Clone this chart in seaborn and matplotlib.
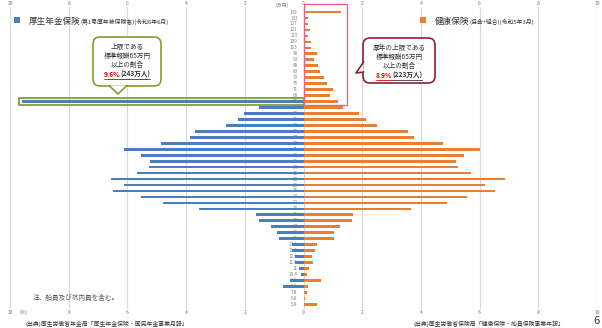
import matplotlib
matplotlib.use("Agg")
import matplotlib.pyplot as plt
import seaborn as sns
import pandas as pd
import numpy as np
from matplotlib.patches import FancyBboxPatch, Rectangle, Polygon
from matplotlib.lines import Line2D
from matplotlib.ticker import FuncFormatter

# ---------------- data (bottom grade -> top grade) ----------------
grades = ["5.8", "6.8", "7.8", "8.8", "9.8", "10.4", "11", "11.8", "12.6", "13.4",
          "14.2", "15", "16", "17", "18", "19", "20", "22", "24", "26",
          "28", "30", "32", "34", "36", "38", "41", "44", "47", "50",
          "53", "56", "59", "62", "65", "68", "71", "75", "79", "83",
          "88", "93", "98", "103", "109", "115", "121", "127", "133", "139"]

# 健康保険(協会+組合) share (%) per grade
health = [0.47, 0.05, 0.125, 0.15, 0.60, 0.125, 0.20, 0.33, 0.28, 0.39,
          0.47, 1.05, 1.03, 1.25, 1.64, 1.67, 3.67, 4.88, 5.58, 6.53,
          6.19, 6.86, 5.69, 5.25, 5.18, 5.47, 6.00, 4.75, 3.76, 3.55,
          2.50, 2.13, 1.89, 1.33, 1.16, 0.90, 1.02, 0.79, 0.71, 0.56,
          0.51, 0.35, 0.45, 0.24, 0.24, 0.16, 0.22, 0.14, 0.16, 1.28]

# 厚生年金保険 grades 8.8 - 65
pension_grades = ["8.8", "9.8", "10.4", "11", "11.8", "12.6", "13.4", "14.2", "15", "16",
                  "17", "18", "19", "20", "22", "24", "26", "28", "30", "32",
                  "34", "36", "38", "41", "44", "47", "50", "53", "56", "59",
                  "62", "65"]
pension = [0.69, 0.47, 0.10, 0.16, 0.30, 0.30, 0.38, 0.38, 0.83, 0.89,
           1.11, 1.53, 1.61, 3.56, 4.78, 5.53, 6.48, 6.11, 6.55, 5.66,
           5.26, 5.24, 5.55, 6.11, 4.86, 3.88, 3.68, 2.64, 2.24, 2.02,
           1.50, 9.58]

x_ticks = [-10, -8, -6, -4, -2, 0, 2, 4, 6, 8, 10]

BLUE = "#4a7ebf"
ORANGE = "#ea7f33"
GREEN = "#7f9f2f"
MAROON = "#8b2035"
PINK = "#e3668a"

sns.set_theme(style="white")
plt.rcParams['font.family'] = ['Noto Sans CJK JP', 'DejaVu Sans']

W, H = 602, 328
fig = plt.figure(figsize=(W / 100, H / 100), dpi=100)
ax = fig.add_axes([10 / W, 1 - 309 / H, (597 - 10) / W, (309 - 7) / H])

order = grades[::-1]
df_h = pd.DataFrame({"grade": grades, "value": health})
df_p = pd.DataFrame({"grade": pension_grades, "value": [-v for v in pension]})

sns.barplot(data=df_h, x="value", y="grade", order=order, color=ORANGE,
            saturation=1, width=0.45, errorbar=None, orient="h", ax=ax,
            edgecolor="none", linewidth=0)
sns.barplot(data=df_p, x="value", y="grade", order=order, color=BLUE,
            saturation=1, width=0.45, errorbar=None, orient="h", ax=ax,
            edgecolor="none", linewidth=0)

ax.set_xlim(-10, 10)
ax.set_ylim(49.79, -0.85)
ax.set_xticks(x_ticks)
ax.xaxis.set_major_formatter(FuncFormatter(lambda v, p: f"{abs(int(round(v)))}"))
ax.set_yticks([])
ax.set_xlabel("")
ax.set_ylabel("")
for s in ax.spines.values():
    s.set_visible(False)
ax.grid(axis="x", color="#d9d9d9", lw=0.8)
ax.set_axisbelow(True)
ax.tick_params(axis="x", labeltop=True, labelbottom=True, top=False, bottom=False,
               length=0, labelsize=3.6, labelcolor="#777777", pad=0.6)
ax.patch.set_alpha(0)

# category labels in the middle (behind bars)
for i, g in enumerate(order):
    ax.text(-0.2, i, g, ha="right", va="center", fontsize=3.3, color="#808080", zorder=0.8)

ax.text(-0.5, -1.15, "(万円)", ha="right", va="center", fontsize=3.5, color="#777777",
        clip_on=False)

# highlight boxes
p65 = order.index("65")
ax.add_patch(Rectangle((-9.7, p65 - 0.57), 9.7, 1.14, fill=False, ec=GREEN, lw=1.3,
                       zorder=5, clip_on=False))
p139 = order.index("139")
ax.add_patch(Rectangle((0.02, p139 - 1.3), 1.46, p65 + 0.6 - (p139 - 1.3), fill=False,
                       ec=PINK, lw=1.0, zorder=5, clip_on=False))

# ---------------- overlay in pixel coordinates ----------------
ov = fig.add_axes([0, 0, 1, 1], zorder=10)
ov.set_xlim(0, W)
ov.set_ylim(H, 0)
ov.axis("off")


def pieces(x, y, items, align="left"):
    texts = [ov.text(0, y, s, ha="left", va="baseline", **kw) for s, kw in items]
    fig.canvas.draw()
    r = fig.canvas.get_renderer()
    widths = [t.get_window_extent(r).width for t in texts]
    start = x - sum(widths) / 2 if align == "center" else x
    cur = start
    spans = []
    for t, w in zip(texts, widths):
        t.set_x(cur)
        spans.append((cur, cur + w))
        cur += w
    return spans


def callout(x0, y0, w, h, tail, color):
    ov.add_patch(FancyBboxPatch((x0, y0), w, h, boxstyle="round,pad=0,rounding_size=7",
                                fc="white", ec=color, lw=1.2, zorder=1))
    (a, b, tip) = tail
    ov.add_patch(Polygon([a, b, tip], closed=True, fc="white", ec="none", zorder=2))
    ov.add_line(Line2D([a[0], tip[0], b[0]], [a[1], tip[1], b[1]], color=color, lw=1.2,
                       zorder=3))


# titles
ov.add_patch(Rectangle((14, 17), 6, 6, fc=BLUE, ec="none"))
pieces(29, 23.5, [("厚生年金保険", dict(fontsize=6.2, color="#333333")),
                  ("(第1号厚年被保険者)(令和6年6月)", dict(fontsize=4.2, color="#333333"))])
ov.add_patch(Rectangle((420, 17), 6, 6, fc=ORANGE, ec="none"))
pieces(435, 23.5, [("健康保険", dict(fontsize=6.2, color="#333333")),
                   ("(協会+組合)(令和5年3月)", dict(fontsize=4.2, color="#333333"))])

# left callout
callout(93, 37, 68, 49, ((109, 85.4), (127, 85.4), (118, 94)), GREEN)
fs = 4.8
cx = 127
for yy, s in [(49, "上限である"), (58, "標準報酬65万円"), (67, "以上の割合")]:
    ov.text(cx, yy, s, ha="center", va="baseline", fontsize=fs, color="#333333", zorder=4)
sp = pieces(cx, 77, [("9.6%", dict(fontsize=fs, color="#e00000", fontweight="bold", zorder=4)),
                     ("(243万人)", dict(fontsize=fs, color="#333333", fontweight="bold", zorder=4))],
            align="center")
ov.add_line(Line2D([sp[0][0], sp[0][1]], [78.5, 78.5], color="#e00000", lw=0.6, zorder=4))
ov.add_line(Line2D([sp[1][0], sp[1][1]], [78.5, 78.5], color="#333333", lw=0.6, zorder=4))

# right callout
callout(363, 38, 72, 45, ((363.6, 62), (363.6, 72), (356, 73)), MAROON)
cx = 399
for yy, s in [(50, "厚年の上限である"), (59, "標準報酬65万円"), (68, "以上の割合")]:
    ov.text(cx, yy, s, ha="center", va="baseline", fontsize=fs, color="#333333", zorder=4)
sp = pieces(cx, 78, [("8.9%", dict(fontsize=fs, color="#e00000", fontweight="bold", zorder=4)),
                     ("(223万人)", dict(fontsize=fs, color="#333333", fontweight="bold", zorder=4))],
            align="center")
ov.add_line(Line2D([sp[0][0], sp[0][1]], [79.5, 79.5], color="#e00000", lw=0.6, zorder=4))
ov.add_line(Line2D([sp[1][0], sp[1][1]], [79.5, 79.5], color="#333333", lw=0.6, zorder=4))

# notes and sources
ov.text(33, 298, "注．船員及び坑内員を含む。", ha="left", va="center", fontsize=4.8, color="#555555")
ov.text(19, 312.5, "(%)", ha="left", va="center", fontsize=3.6, color="#777777")
ov.text(25, 324, "(出典)厚生労働省年金局「厚生年金保険・国民年金事業月報」", ha="left", va="center",
        fontsize=4.2, color="#333333")
ov.text(413, 324, "(出典)厚生労働省保険局「健康保険・船員保険事業年報」", ha="left", va="center",
        fontsize=4.2, color="#333333")
ov.text(596, 321.5, "6", ha="center", va="center", fontsize=8, color="#333333")

fig.savefig("out.png", dpi=100)
